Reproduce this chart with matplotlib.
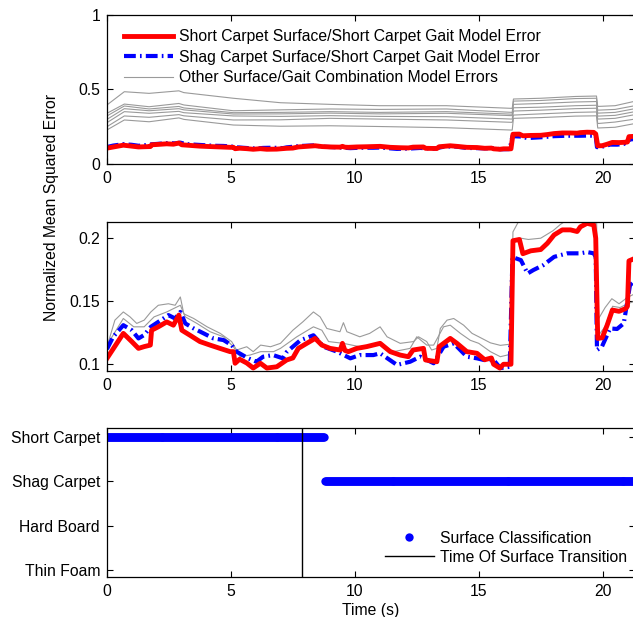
import numpy as np
import matplotlib.pyplot as plt

plt.rcParams['font.family'] = ['Liberation Sans', 'DejaVu Sans']
plt.rcParams['font.size'] = 11.3
plt.rcParams['lines.scale_dashes'] = False

# Short carpet surface / short carpet gait model error
red_t = [0.0, 0.66, 1.0, 1.27, 1.5, 1.75, 1.8, 2.07, 2.41, 2.68, 2.9, 3.02, 3.35, 3.75,
         4.16, 4.56, 4.97, 5.1, 5.17, 5.35, 5.64, 5.9, 6.19, 6.45, 6.85, 7.25, 7.5, 7.72,
         8.06, 8.4, 8.67, 9.0, 9.41, 9.5, 9.6, 9.74, 10.08, 10.48, 11.02, 11.43, 11.83,
         12.16, 12.35, 12.77, 12.85, 13.31, 13.4, 13.85, 14.12, 14.52, 14.93, 15.24, 15.51,
         15.6, 15.85, 16.0, 16.3, 16.38, 16.64, 16.78, 17.1, 17.5, 17.77, 18.04, 18.37,
         18.7, 18.97, 19.1, 19.37, 19.64, 19.72, 19.8, 19.98, 20.18, 20.39, 20.66, 20.93,
         21.0, 21.06, 21.3]
red_err = [0.1047, 0.1245, 0.118, 0.1126, 0.114, 0.1152, 0.127, 0.1297, 0.1336, 0.131,
           0.139, 0.127, 0.123, 0.118, 0.1152, 0.1126, 0.11, 0.11, 0.1008, 0.104, 0.101,
           0.097, 0.1008, 0.097, 0.098, 0.1034, 0.105, 0.1126, 0.1166, 0.1205, 0.1152,
           0.1126, 0.1113, 0.1166, 0.111, 0.11, 0.1126, 0.114, 0.1166, 0.11, 0.1073, 0.106,
           0.1113, 0.1126, 0.1034, 0.102, 0.1139, 0.1205, 0.1166, 0.11, 0.1087, 0.1036,
           0.105, 0.1, 0.097, 0.1, 0.1, 0.198, 0.199, 0.1877, 0.19, 0.191, 0.196, 0.2026,
           0.2066, 0.2066, 0.2053, 0.209, 0.2118, 0.2105, 0.2, 0.1205, 0.121, 0.131, 0.143,
           0.142, 0.1442, 0.146, 0.182, 0.184]

# Shag carpet surface / short carpet gait model error
blue_t = [0.0, 0.25, 0.66, 1.0, 1.27, 1.5, 1.77, 2.07, 2.48, 2.75, 2.96, 3.16, 3.5, 3.9,
          4.3, 4.7, 5.03, 5.23, 5.7, 6.03, 6.3, 6.7, 7.1, 7.25, 7.8, 8.33, 8.74, 9.28,
          9.82, 10.2, 10.75, 11.02, 11.7, 12.23, 12.64, 13.18, 13.58, 13.99, 14.52, 14.93,
          15.2, 15.6, 15.87, 16.25, 16.36, 16.7, 16.97, 17.2, 17.6, 18.04, 18.57, 19.1,
          19.37, 19.64, 19.72, 19.77, 19.97, 20.3, 20.58, 20.85, 20.98, 21.1, 21.3]
blue_err = [0.112, 0.1218, 0.131, 0.127, 0.1205, 0.1232, 0.1297, 0.1336, 0.139, 0.1363,
            0.1415, 0.1324, 0.1284, 0.1245, 0.1205, 0.1192, 0.1152, 0.11, 0.1047, 0.102,
            0.106, 0.1073, 0.1047, 0.1097, 0.119, 0.123, 0.1139, 0.11, 0.1047, 0.1073,
            0.1073, 0.1087, 0.0995, 0.102, 0.106, 0.1008, 0.1139, 0.1166, 0.106, 0.1047,
            0.1034, 0.1034, 0.097, 0.098, 0.185, 0.1826, 0.172, 0.1747, 0.1786, 0.1852,
            0.188, 0.188, 0.189, 0.188, 0.185, 0.1113, 0.114, 0.1284, 0.128, 0.1324, 0.148,
            0.1626, 0.1666]

# other surface/gait combinations (top panel)
top_gray_t = [0.0, 0.7, 1.7, 2.9, 3.1, 5.1, 7.0, 9.0, 11.0, 13.7, 16.35, 16.4, 17.5,
              18.9, 19.75, 19.8, 20.5, 21.3]
top_gray_1 = [0.395, 0.484, 0.473, 0.49, 0.478, 0.44, 0.41, 0.399, 0.39, 0.39, 0.372,
              0.435, 0.44, 0.452, 0.455, 0.385, 0.39, 0.42]
top_gray_2 = [0.339, 0.401, 0.383, 0.405, 0.395, 0.356, 0.362, 0.368, 0.365, 0.368,
              0.345, 0.421, 0.425, 0.438, 0.44, 0.36, 0.365, 0.39]
top_gray_3 = [0.321, 0.388, 0.368, 0.385, 0.375, 0.343, 0.345, 0.35, 0.345, 0.35, 0.333,
              0.399, 0.405, 0.415, 0.418, 0.34, 0.345, 0.37]
top_gray_4 = [0.298, 0.37, 0.356, 0.37, 0.362, 0.334, 0.335, 0.34, 0.335, 0.339, 0.323,
              0.376, 0.38, 0.39, 0.393, 0.32, 0.325, 0.35]
top_gray_5 = [0.276, 0.35, 0.339, 0.352, 0.343, 0.321, 0.318, 0.323, 0.318, 0.316, 0.3,
              0.354, 0.36, 0.37, 0.373, 0.3, 0.305, 0.33]
top_gray_6 = [0.249, 0.321, 0.312, 0.33, 0.322, 0.294, 0.295, 0.305, 0.3, 0.294, 0.278,
              0.327, 0.335, 0.345, 0.348, 0.27, 0.28, 0.3]
top_gray_7 = [0.227, 0.294, 0.282, 0.308, 0.298, 0.26, 0.252, 0.255, 0.25, 0.242, 0.226,
              0.305, 0.31, 0.32, 0.322, 0.24, 0.245, 0.27]

# other combinations close to the red curve (middle panel)
gray_a_t = [0.0, 0.66, 1.08, 1.5, 1.9, 2.41, 2.96, 3.16, 3.63, 4.16, 4.7, 5.1, 5.37,
            5.77, 6.2, 6.72, 7.0, 7.66, 8.33, 8.67, 8.94, 9.54, 10.2, 11.02, 11.56, 12.23,
            12.5, 12.9, 13.18, 13.58, 13.85, 14.26, 14.66, 15.0, 15.47, 15.87, 16.3,
            16.38, 16.7, 17.0, 17.5, 18.0, 18.3, 18.6, 19.7, 19.8, 20.1, 20.4, 20.7, 21.0,
            21.3]
gray_a = [0.1152, 0.1363, 0.1297, 0.1297, 0.1376, 0.1415, 0.1468, 0.1376, 0.1324,
          0.1258, 0.1218, 0.1139, 0.106, 0.1073, 0.11, 0.11, 0.1126, 0.1218, 0.1297,
          0.127, 0.118, 0.1166, 0.1139, 0.1166, 0.11, 0.1126, 0.1218, 0.1152, 0.1152,
          0.1297, 0.131, 0.1245, 0.119, 0.1166, 0.11, 0.106, 0.108, 0.196, 0.2, 0.199,
          0.2, 0.206, 0.211, 0.215, 0.218, 0.122, 0.13, 0.146, 0.145, 0.148, 0.15]
gray_b_t = [0.0, 0.32, 0.66, 0.93, 1.2, 1.5, 1.77, 2.07, 2.48, 2.75, 2.96, 3.1, 3.5,
            4.04, 4.57, 5.03, 5.23, 5.64, 5.9, 6.2, 6.6, 7.0, 7.5, 7.9, 8.33, 8.6, 8.87,
            9.4, 9.54, 9.68, 10.2, 10.6, 11.02, 11.3, 11.83, 12.37, 12.57, 12.9, 13.1,
            13.31, 13.45, 13.72, 13.99, 14.39, 14.73, 15.0, 15.47, 15.87, 16.3, 16.38,
            16.6, 17.0, 19.75, 19.8, 20.1, 20.37, 20.66, 21.0, 21.3]
gray_b = [0.1139, 0.135, 0.1415, 0.1376, 0.1324, 0.135, 0.1415, 0.1468, 0.148, 0.1468,
          0.1534, 0.14, 0.1363, 0.1297, 0.1245, 0.118, 0.1113, 0.1139, 0.11, 0.1152,
          0.1139, 0.1166, 0.127, 0.1336, 0.1415, 0.1376, 0.1284, 0.1258, 0.133, 0.1258,
          0.1218, 0.1245, 0.1297, 0.1218, 0.1166, 0.118, 0.1218, 0.118, 0.1113, 0.1126,
          0.1284, 0.135, 0.1363, 0.131, 0.1245, 0.1218, 0.117, 0.115, 0.116, 0.205, 0.213,
          0.216, 0.225, 0.135, 0.145, 0.152, 0.148, 0.153, 0.156]

# surface classification (bottom panel)
surface_labels = ['Thin Foam', 'Hard Board', 'Shag Carpet', 'Short Carpet']
class_switch_time = 8.8
sample_period = 0.04
transition_time = 7.87
t_end = 21.3

fig = plt.figure(figsize=(6.33, 6.17), dpi=100)
ax1 = fig.add_axes([0.169, 0.7347, 0.834, 0.241])
ax2 = fig.add_axes([0.169, 0.3992, 0.834, 0.2415])
ax3 = fig.add_axes([0.169, 0.0643, 0.834, 0.2415])

gray = '#9a9a9a'
top_grays = [top_gray_1, top_gray_2, top_gray_3, top_gray_4, top_gray_5, top_gray_6, top_gray_7]
for i, g in enumerate(top_grays):
    ax1.plot(top_gray_t, g, color=gray, lw=0.8,
             label='Other Surface/Gait Combination Model Errors' if i == 0 else None)
dash = (0, (8.5, 3, 1.2, 3))
ax1.plot(blue_t, blue_err, color='#0000ff', lw=3, ls=dash,
         label='Shag Carpet Surface/Short Carpet Gait Model Error')
ax1.plot(red_t, red_err, color='#ff0000', lw=3.5,
         label='Short Carpet Surface/Short Carpet Gait Model Error')
handles, labels = ax1.get_legend_handles_labels()
ax1.legend([handles[2], handles[1], handles[0]], [labels[2], labels[1], labels[0]],
           loc='upper left', bbox_to_anchor=(0.033, 0.905), frameon=False, borderpad=0,
           borderaxespad=0, handlelength=3.1, handletextpad=0.4, labelspacing=0.35)
ax1.set_ylim(0, 1)
ax1.set_yticks([0, 0.5, 1])
ax1.set_yticklabels(['0', '0.5', '1'])

ax2.plot(gray_a_t, gray_a, color=gray, lw=0.8)
ax2.plot(gray_b_t, gray_b, color=gray, lw=0.8)
ax2.plot(blue_t, blue_err, color='#0000ff', lw=3, ls=dash)
ax2.plot(red_t, red_err, color='#ff0000', lw=3.5)
ax2.set_ylim(0.0949, 0.2131)
ax2.set_yticks([0.1, 0.15, 0.2])
ax2.set_yticklabels(['0.1', '0.15', '0.2'])

sample_t = np.arange(0, t_end + sample_period, sample_period)
surface = np.where(sample_t < class_switch_time,
                   surface_labels.index('Short Carpet') + 1,
                   surface_labels.index('Shag Carpet') + 1)
ax3.plot(sample_t, surface, 'o', color='#0000ff', ms=6, mec='none',
         label='Surface Classification')
ax3.axvline(transition_time, color='black', lw=1, label='Time Of Surface Transition')
ax3.set_ylim(0.835, 4.19)
ax3.set_yticks([1, 2, 3, 4])
ax3.set_yticklabels(surface_labels)
ax3.set_xlabel('Time (s)', labelpad=3)
ax3.legend(loc='lower right', bbox_to_anchor=(0.985, 0.085), frameon=False, borderpad=0,
           borderaxespad=0, handlelength=3.1, handletextpad=0.4, labelspacing=0.25)

for ax in (ax1, ax2, ax3):
    ax.set_xlim(0, t_end)
    ax.set_xticks([0, 5, 10, 15, 20])
    ax.tick_params(direction='in', top=True, right=True, length=4, width=0.8,
                   labelsize=11.3, pad=5)
    for s in ax.spines.values():
        s.set_linewidth(0.9)

fig.text(0.082, 1 - 207 / 617, 'Normalized Mean Squared Error', rotation=90,
         ha='center', va='center', fontsize=11.3)

fig.savefig('out.png', dpi=100)
